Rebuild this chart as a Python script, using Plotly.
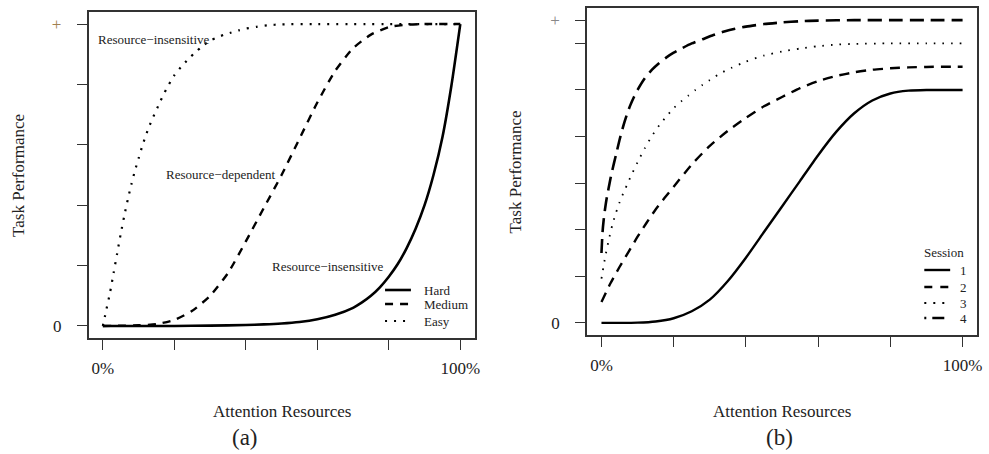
import plotly.graph_objects as go

# ---------------- data ----------------
# Panel (a): task performance vs attention resources (%)
hard_x = [0, 10, 20, 30, 40, 45, 50, 55, 60, 65, 70, 72.5, 75, 77.5, 80, 82.5, 85, 87.5, 90, 92.5, 95, 97.5, 100]
hard_y = [0, 0, 0, 0.001, 0.003, 0.005, 0.008, 0.013, 0.022, 0.037, 0.06, 0.078, 0.1, 0.128, 0.163, 0.205,
          0.258, 0.322, 0.4, 0.5, 0.625, 0.795, 1.0]

medium_x = [0, 10, 15, 20, 25, 30, 35, 40, 45, 50, 55, 60, 65, 70, 75, 80, 85, 90, 100]
medium_y = [0, 0.002, 0.006, 0.02, 0.05, 0.1, 0.175, 0.28, 0.39, 0.5, 0.62, 0.74, 0.845, 0.92, 0.965, 0.99,
            0.998, 1.0, 1.0]

easy_x = [0, 1, 2, 3, 4, 5, 6, 7, 8, 9, 10, 11, 12, 13, 14, 15, 16, 17, 18, 19, 20, 22, 24, 26, 28, 30, 32,
          34, 36, 38, 40, 43, 46, 50, 60, 100]
easy_y = [0, 0.055, 0.11, 0.175, 0.24, 0.305, 0.365, 0.42, 0.47, 0.515, 0.555, 0.595, 0.63, 0.662, 0.69, 0.716,
          0.742, 0.767, 0.79, 0.811, 0.83, 0.86, 0.885, 0.908, 0.928, 0.945, 0.956, 0.965, 0.972, 0.979,
          0.985, 0.991, 0.996, 0.999, 1.0, 1.0]

# Panel (b): four sessions
s1_x = [0, 5, 10, 15, 20, 25, 30, 35, 40, 45, 50, 55, 60, 65, 70, 75, 80, 85, 90, 95, 100]
s1_y = [0, 0, 0.001, 0.006, 0.02, 0.05, 0.1, 0.18, 0.28, 0.39, 0.5, 0.61, 0.72, 0.82, 0.9, 0.955, 0.985,
        0.997, 1.0, 1.0, 1.0]

s2_x = [0, 2.5, 5, 7.5, 10, 12.5, 15, 17.5, 20, 25, 30, 35, 40, 45, 50, 55, 60, 65, 70, 75, 80, 85, 90, 95, 100]
s2_y = [0.09, 0.17, 0.24, 0.305, 0.37, 0.43, 0.487, 0.537, 0.585, 0.68, 0.76, 0.825, 0.88, 0.93, 0.97,
        1.008, 1.038, 1.06, 1.076, 1.087, 1.093, 1.097, 1.099, 1.1, 1.1]

s3_x = [0, 1, 2, 3, 4, 5, 6, 7, 8, 9, 10, 12, 14, 16, 18, 20, 22, 24, 26, 28, 30, 33, 36, 40, 45, 50, 55,
        60, 65, 70, 80, 90, 100]
s3_y = [0.19, 0.28, 0.355, 0.42, 0.472, 0.517, 0.555, 0.59, 0.625, 0.658, 0.69, 0.75, 0.803, 0.848, 0.887,
        0.922, 0.95, 0.975, 1.0, 1.022, 1.043, 1.072, 1.095, 1.122, 1.148, 1.165, 1.178, 1.188, 1.195, 1.198,
        1.2, 1.2, 1.2]

s4_x = [0, 0.3, 0.6, 1, 1.5, 2, 2.5, 3, 3.5, 4, 5, 6, 7, 8, 9, 10, 12, 14, 16, 18, 20, 22, 25, 28, 31, 34,
        37, 40, 45, 50, 55, 60, 70, 80, 90, 100]
s4_y = [0.3, 0.39, 0.44, 0.49, 0.54, 0.58, 0.62, 0.655, 0.688, 0.72, 0.785, 0.843, 0.893, 0.935, 0.97,
        1.0, 1.05, 1.087, 1.116, 1.14, 1.16, 1.177, 1.2, 1.218, 1.236, 1.251, 1.263, 1.272, 1.283, 1.29,
        1.295, 1.298, 1.3, 1.3, 1.3, 1.3]

x_ticks = [0, 20, 40, 60, 80, 100]
x_ticktext = ["0%", "", "", "", "", "100%"]
ya_ticks = [0, 0.2, 0.4, 0.6, 0.8, 1.0]
yb_ticks = [0, 0.2, 0.4, 0.6, 0.8, 1.0, 1.2, 1.3]

legend_a = ["Hard", "Medium", "Easy"]
legend_b = ["1", "2", "3", "4"]

# ---------------- figure ----------------
W, H = 989, 454
FONT = "Liberation Serif, Times New Roman, serif"


def X(px):
    return px / W


def Y(py):
    return 1 - py / H


fig = go.Figure()

styles_a = [("solid", 2.6), ("8px,7px", 2.4), ("2px,7px", 2.2)]
for (xs, ys), (dash, w), name in zip([(hard_x, hard_y), (medium_x, medium_y), (easy_x, easy_y)],
                                     styles_a, legend_a):
    fig.add_trace(go.Scatter(x=xs, y=ys, mode="lines", name=name, xaxis="x", yaxis="y",
                             line=dict(color="black", width=w, dash=dash, shape="spline", smoothing=0.6),
                             showlegend=False))

styles_b = [("solid", 2.4), ("10px,7px", 2.4), ("1.6px,7px", 1.8), ("14px,7px", 2.6)]
for (xs, ys), (dash, w), name in zip([(s1_x, s1_y), (s2_x, s2_y), (s3_x, s3_y), (s4_x, s4_y)],
                                     styles_b, legend_b):
    fig.add_trace(go.Scatter(x=xs, y=ys, mode="lines", name=name, xaxis="x2", yaxis="y2",
                             line=dict(color="black", width=w, dash=dash, shape="spline", smoothing=0.6),
                             showlegend=False))

axis_common = dict(showline=True, mirror=True, linecolor="#333", linewidth=1.5, ticks="outside",
                   ticklen=10, tickwidth=1.3, tickcolor="#333", showgrid=False, zeroline=False,
                   tickfont=dict(family=FONT, size=17, color="#222"))

fig.update_layout(
    width=W, height=H, margin=dict(l=0, r=0, t=0, b=0),
    plot_bgcolor="white", paper_bgcolor="white", showlegend=False,
    xaxis=dict(domain=[X(89), X(477)], range=[-4, 104], tickvals=x_ticks, ticktext=x_ticktext,
               anchor="y", ticklabelstandoff=4, **axis_common),
    yaxis=dict(domain=[Y(338), Y(12)], range=[-0.04, 1.04], tickvals=ya_ticks,
               ticktext=["0", "", "", "", "", '<span style="color:#a08050">+</span>'],
               anchor="x", ticklabelstandoff=12, **axis_common),
    xaxis2=dict(domain=[X(590), X(982)], range=[-4, 104], tickvals=x_ticks, ticktext=x_ticktext,
                anchor="y2", ticklabelstandoff=4, **axis_common),
    yaxis2=dict(domain=[Y(335), Y(8)], range=[-0.052, 1.352], tickvals=yb_ticks,
                ticktext=["0", "", "", "", "", "", "", '<span style="color:#888">+</span>'],
                anchor="x2", ticklabelstandoff=12, **axis_common),
)

ann = []


def text(px, py, s, size=13, xanchor="center", angle=0):
    ann.append(dict(x=X(px), y=Y(py), xref="paper", yref="paper", text=s, showarrow=False,
                    xanchor=xanchor, yanchor="middle", textangle=angle,
                    font=dict(family=FONT, size=size, color="#222")))


# in-plot labels (a)
text(96, 39, "Resource−insensitive", xanchor="left")
text(165, 174, "Resource−dependent", xanchor="left")
text(271, 266, "Resource−insensitive", xanchor="left")

# axis titles & panel labels
text(18, 175, "Task Performance", size=17, angle=-90)
text(518, 172, "Task Performance", size=17, angle=-90)
text(283, 411, "Attention Resources", size=17)
text(786, 411, "Attention Resources", size=17)
text(246, 437, "(a)", size=23)
text(783, 437, "(b)", size=23)

# manual legends
shapes = []
leg_a_rows = [290, 304, 321]
for (dash, w), name, py in zip(styles_a, legend_a, leg_a_rows):
    shapes.append(dict(type="line", xref="paper", yref="paper", x0=X(387), x1=X(413), y0=Y(py), y1=Y(py),
                       line=dict(color="black", width=w, dash=dash)))
    text(424, py, name, xanchor="left")

text(949, 252, "Session")
leg_b_styles = [("solid", 2.4), ("8px,8px", 2.4), ("2px,7px", 2.0), ("2px,6px,12px,6px", 2.4)]
leg_b_rows = [270, 287, 303, 318]
for (dash, w), name, py in zip(leg_b_styles, legend_b, leg_b_rows):
    shapes.append(dict(type="line", xref="paper", yref="paper", x0=X(929), x1=X(955), y0=Y(py), y1=Y(py),
                       line=dict(color="black", width=w, dash=dash)))
    text(968, py, name)

fig.update_layout(annotations=ann, shapes=shapes)
fig.write_html("out.html", config={"displayModeBar": False},
               post_script="document.body.style.margin='0';document.body.style.overflow='hidden';")
